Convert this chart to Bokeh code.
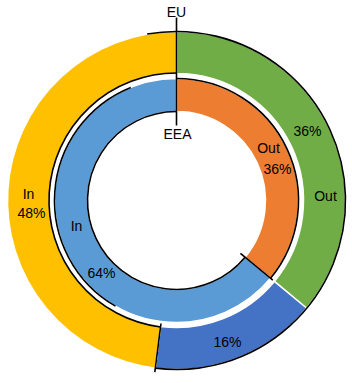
import numpy as np
from bokeh.plotting import figure
from bokeh.models import Range1d, ColumnDataSource
from bokeh.embed import file_html
from bokeh.resources import INLINE
from bokeh.core.properties import value

# ---------------- data ----------------
ring_titles = ["EU", "EEA"]
outer_names = ["Out", "Other", "In"]          # EU ring, clockwise from top
outer_values = [36, 16, 48]
outer_pct = ["36%", "16%", "48%"]
inner_names = ["Out", "In"]                   # EEA ring, clockwise from top
inner_values = [36, 64]
inner_pct = ["36%", "64%"]

# ---------------- style / layout ----------------
outer_colors = ["#70AD47", "#4472C4", "#FFC000"]
inner_colors = ["#ED7D31", "#5B9BD5"]
W, H = 352, 383
CX, CY = 176, H - 200
R_OUTER = (127, 169)
R_INNER = (89, 122)
FONT = "Liberation Sans"
FS = "14px"


def boundaries(vals):
    fr = np.cumsum([0] + list(vals)) / float(sum(vals))
    return np.pi / 2 - 2 * np.pi * fr  # clockwise from 12 o'clock


a_out = boundaries(outer_values)
a_in = boundaries(inner_values)

p = figure(width=W, height=H, x_range=Range1d(0, W), y_range=Range1d(0, H),
           output_backend="svg", toolbar_location=None, min_border=0,
           x_axis_location=None, y_axis_location=None)
p.grid.visible = False
p.outline_line_color = None
p.background_fill_color = "white"

# rings
src_o = ColumnDataSource(dict(start=a_out[1:], end=a_out[:-1], color=outer_colors,
                              name=outer_names, v=outer_values))
p.annular_wedge(x=CX, y=CY, inner_radius=R_OUTER[0], outer_radius=R_OUTER[1],
                start_angle="start", end_angle="end", fill_color="color",
                line_color="white", line_width=1.5, source=src_o)
src_i = ColumnDataSource(dict(start=a_in[1:], end=a_in[:-1], color=inner_colors,
                              name=inner_names, v=inner_values))
p.annular_wedge(x=CX, y=CY, inner_radius=R_INNER[0], outer_radius=R_INNER[1],
                start_angle="start", end_angle="end", fill_color="color",
                line_color="white", line_width=1.5, source=src_i)

# black outline arcs
deg = np.pi / 180
arcs = [
    (R_OUTER[1], a_out[2], 100 * deg),            # outer edge over green/blue
    (R_OUTER[0] + 0.5, a_out[0], a_out[2] + 2 * np.pi),  # yellow inner edge
    (R_INNER[1], a_in[1], a_in[0]),               # orange outer edge
    (R_INNER[1], 112 * deg, 240 * deg),           # light blue outer edge (left)
    (R_INNER[0], a_in[0], a_in[1] + 2 * np.pi),   # light blue inner edge
]
for r, s, e in arcs:
    p.arc(x=CX, y=CY, radius=r, start_angle=s, end_angle=e,
          line_color="black", line_width=1.6)

# black radial lines
rays = [(a_out[0], 75, 183), (a_out[2], 124, 173), (a_in[1], 83, 125)]
for ang, r1, r2 in rays:
    p.segment(x0=CX + r1 * np.cos(ang), y0=CY + r1 * np.sin(ang),
              x1=CX + r2 * np.cos(ang), y1=CY + r2 * np.sin(ang),
              line_color="black", line_width=1.6)

# labels (pixel positions of label centres)
texts = [ring_titles[0], ring_titles[1],
         outer_pct[0], outer_names[0], outer_pct[1],
         outer_names[2], outer_pct[2],
         inner_names[0], inner_pct[0],
         inner_names[1], inner_pct[1]]
pos = [(176, 11), (177, 133),
       (307, 130), (325, 195), (227, 341),
       (28, 193), (31, 212),
       (268, 147), (277, 168),
       (76, 225), (101, 272)]
p.text(x=[q[0] for q in pos], y=[H - q[1] for q in pos], text=texts,
       text_align="center", text_baseline="middle", text_color="black",
       text_font=value(FONT), text_font_size=FS)

open("out.html", "w").write(file_html(p, INLINE))
